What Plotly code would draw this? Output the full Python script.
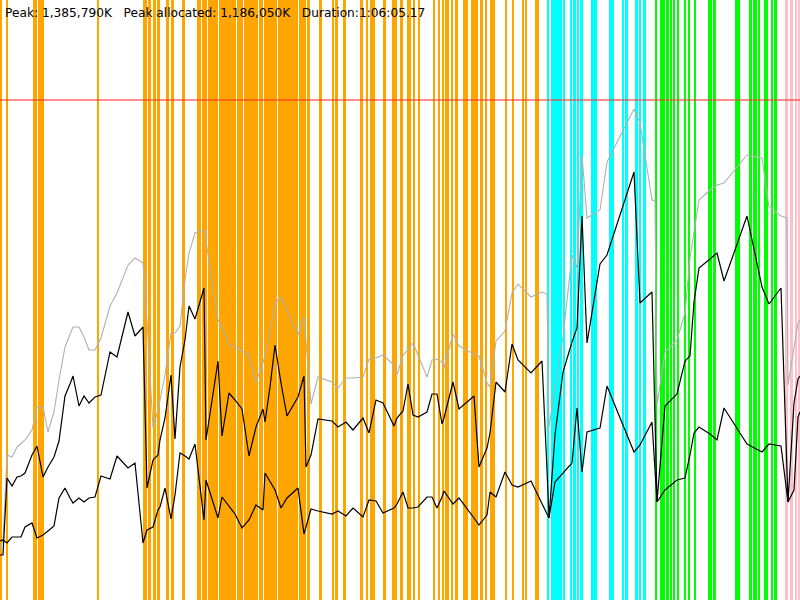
import plotly.graph_objects as go

# ---- time samples (seconds) ----
time_s = [0, 15, 35, 60, 85, 105, 125, 160, 185, 215,
          240, 270, 295, 325, 350, 365, 395, 420, 445, 475,
          505, 550, 585, 640, 675, 715, 735, 765, 790, 800,
          825, 855, 875, 900, 925, 945, 975, 1020, 1030, 1090,
          1110, 1145, 1175, 1210, 1245, 1280, 1315, 1325, 1350, 1375,
          1405, 1435, 1490, 1520, 1530, 1555, 1590, 1660, 1690, 1730,
          1765, 1815, 1845, 1880, 1915, 1970, 1985, 2015, 2040, 2065,
          2090, 2135, 2160, 2185, 2210, 2220, 2265, 2295, 2370, 2395,
          2435, 2450, 2480, 2525, 2560, 2590, 2655, 2710, 2735, 2745,
          2775, 2815, 2860, 2885, 2910, 2935, 3000, 3035, 3170, 3200,
          3260, 3275, 3285, 3325, 3385, 3425, 3450, 3470, 3495, 3550,
          3585, 3620, 3735, 3810, 3845, 3905, 3935, 3940, 3970, 3990, 4000]

# ---- memory series (% of heap limit) ----
heap_total = [10.0, 12.0, 29.0, 28.6, 30.6, 31.4, 32.0, 34.0, 38.6, 38.6,
              33.6, 37.6, 44.0, 50.6, 53.0, 54.6, 54.6, 52.6, 50.0, 50.0,
              52.4, 58.8, 61.4, 67.0, 68.4, 67.4, 56.0, 34.4, 38.0, 40.0,
              45.0, 53.4, 53.4, 54.8, 64.0, 69.4, 73.4, 74.0, 71.8, 56.0,
              54.6, 51.0, 50.6, 49.8, 49.0, 43.6, 47.4, 49.0, 53.6, 59.4,
              60.6, 58.0, 53.0, 56.6, 52.0, 39.2, 44.6, 43.6, 42.4, 44.4,
              44.4, 44.6, 48.2, 48.4, 49.0, 47.0, 45.0, 49.0, 50.0, 51.4,
              49.0, 44.6, 48.0, 48.2, 47.6, 46.4, 53.2, 50.8, 49.2, 48.8,
              43.4, 42.6, 51.8, 53.8, 61.4, 63.2, 60.6, 61.6, 61.2, 34.6,
              42.4, 52.6, 69.0, 66.4, 89.0, 76.4, 78.0, 87.6, 98.2, 95.4,
              80.0, 79.8, 39.0, 49.6, 52.0, 57.4, 68.4, 73.6, 80.0, 82.0,
              83.0, 83.4, 89.0, 88.4, 78.6, 76.8, 76.4, 43.0, 50.0, 55.4, 56.0]

heap_used = [9.0, 9.0, 24.4, 22.8, 24.6, 24.8, 25.4, 29.0, 30.8, 24.6,
             26.6, 28.6, 31.8, 40.8, 43.2, 44.8, 38.8, 40.8, 39.4, 40.6,
             41.0, 49.6, 48.6, 57.6, 52.8, 54.6, 22.4, 28.0, 29.0, 32.0,
             36.4, 45.0, 32.2, 46.6, 52.0, 58.8, 56.2, 62.4, 32.0, 47.8,
             32.8, 41.4, 40.0, 38.2, 28.8, 34.6, 38.2, 35.6, 42.6, 51.0,
             43.4, 36.8, 40.6, 44.8, 26.6, 29.0, 36.2, 35.8, 34.6, 35.6,
             34.0, 36.4, 33.4, 40.0, 39.4, 34.8, 36.4, 37.8, 43.2, 37.0,
             36.6, 37.6, 41.2, 41.2, 35.2, 36.4, 43.6, 38.2, 40.8, 26.6,
             30.4, 33.4, 43.6, 41.6, 51.2, 48.0, 45.4, 47.8, 26.0, 16.4,
             33.0, 45.6, 51.6, 54.4, 76.8, 51.4, 67.2, 69.0, 85.6, 59.4,
             61.6, 36.4, 19.6, 38.8, 41.2, 47.8, 48.8, 59.6, 66.4, 68.2,
             69.4, 63.8, 76.8, 62.6, 59.2, 62.4, 26.0, 19.6, 39.4, 44.2, 44.8]

heap_live = [11.8, 12.0, 11.4, 12.6, 12.6, 12.6, 14.6, 15.4, 12.4, 13.0,
             13.8, 14.8, 20.4, 22.4, 20.4, 19.4, 20.4, 19.6, 20.4, 20.6,
             24.8, 24.2, 28.8, 26.4, 27.4, 11.4, 14.0, 14.6, 18.0, 18.6,
             22.4, 16.2, 21.0, 29.4, 28.8, 28.2, 31.2, 16.0, 24.0, 16.4,
             20.6, 18.8, 17.2, 14.4, 16.0, 19.0, 18.0, 25.4, 23.6, 22.0,
             18.4, 20.4, 22.4, 13.2, 14.6, 18.2, 17.8, 17.2, 17.8, 16.8,
             18.4, 16.6, 20.0, 19.8, 17.4, 18.4, 19.2, 21.6, 18.4, 18.4,
             18.6, 20.6, 20.6, 18.4, 20.6, 21.8, 19.2, 20.4, 16.4, 15.0,
             17.0, 21.6, 20.6, 25.6, 23.0, 22.6, 23.8, 19.4, 17.2, 16.4,
             23.6, 25.4, 27.4, 38.4, 25.6, 33.6, 34.4, 42.8, 29.6, 31.0,
             35.6, 26.0, 19.6, 22.0, 24.0, 24.4, 29.0, 33.4, 34.6, 33.2,
             32.0, 38.4, 31.2, 29.6, 31.2, 30.8, 21.0, 19.6, 22.0, 36.6, 37.6]

heap_limit = 100.0

# ---- phase events: start time (s) and duration (s) ----
orange_start = [0, 30, 165, 175, 190, 485, 715, 740, 762.5, 785,
                830, 855, 910, 985, 1010, 1040, 1092.5, 1185, 1220, 1295,
                1320, 1390, 1495, 1535, 1595, 1660, 1675, 1715, 1800, 1830,
                1850, 1915, 1960, 2000, 2035, 2047.5, 2065, 2090, 2165, 2190,
                2210, 2225, 2255, 2275, 2315, 2355, 2400, 2425, 2450, 2525,
                2560, 2610, 2625, 2675]
orange_dur = [7.5, 7.5, 7.5, 10, 27.5, 7.5, 17.5, 12.5, 15, 15,
              15, 15, 15, 20, 26.5, 47.5, 87.5, 30, 70, 20,
              65, 100, 36.5, 15, 15, 10, 12.5, 15, 15, 10,
              25, 15, 25, 15, 7.5, 7.5, 7.5, 10, 7.5, 10,
              7.5, 17.5, 10, 15, 25, 35, 15, 10, 25, 10,
              7.5, 7.5, 10, 20]

cyan_start = [2735, 2755, 2815, 2847.5, 2865, 2885, 2900, 2955, 3045, 3110,
              3125, 3175, 3195, 3212.5]
cyan_dur = [7.5, 55, 10, 12.5, 12.5, 7.5, 12.5, 30, 22.5, 10,
            15, 12.5, 10, 17.5]

green_start = [3275, 3297.5, 3310, 3327.5, 3347.5, 3365, 3385, 3417.5, 3440, 3470,
               3537.5, 3565, 3675, 3742.5, 3765, 3792.5, 3820, 3852.5, 3867.5]
green_dur = [7.5, 10, 15, 17.5, 12.5, 10, 7.5, 10, 10, 7.5,
             22.5, 15, 25, 17.5, 20, 7.5, 20, 12.5, 17.5]

pink_start = [3925, 3950, 3975, 3992.5]
pink_dur = [15, 15, 10, 7.5]

X_MAX = 4000
Y_MAX = 120

header = ("Peak: 1,385,790K\u00a0\u00a0\u00a0Peak allocated: 1,186,050K"
          "\u00a0\u00a0\u00a0Duration:1:06:05.17")

fig = go.Figure()

for starts, durs, color in [(orange_start, orange_dur, "#FFA500"),
                            (cyan_start, cyan_dur, "#00FFFF"),
                            (green_start, green_dur, "#00FF00"),
                            (pink_start, pink_dur, "#FFC0CB")]:
    fig.add_trace(go.Bar(x=starts, y=[Y_MAX] * len(starts), width=durs, offset=0,
                         base=0, marker=dict(color=color, line=dict(width=0)),
                         hoverinfo="skip", showlegend=False))

fig.add_trace(go.Scatter(x=[0, X_MAX], y=[heap_limit, heap_limit], mode="lines",
                         line=dict(color="rgba(255,40,40,0.7)", width=1.5),
                         hoverinfo="skip", showlegend=False))

fig.add_trace(go.Scatter(x=time_s, y=heap_total, mode="lines",
                         line=dict(color="#b0b0b0", width=1.1), showlegend=False))
fig.add_trace(go.Scatter(x=time_s, y=heap_used, mode="lines",
                         line=dict(color="#000000", width=1.2), showlegend=False))
fig.add_trace(go.Scatter(x=time_s, y=heap_live, mode="lines",
                         line=dict(color="#000000", width=1.2), showlegend=False))

fig.add_annotation(text=header, xref="paper", yref="paper", x=0, y=1,
                   xanchor="left", yanchor="top", xshift=3, yshift=-4,
                   showarrow=False,
                   font=dict(family="DejaVu Sans", size=12.2, color="#000000"))

fig.update_layout(width=800, height=600, margin=dict(l=0, r=0, t=0, b=0),
                  paper_bgcolor="white", plot_bgcolor="white",
                  barmode="overlay", bargap=0,
                  xaxis=dict(visible=False, range=[0, X_MAX], fixedrange=True),
                  yaxis=dict(visible=False, range=[0, Y_MAX], fixedrange=True))

fig.write_html("out.html", config={"displayModeBar": False},
               post_script="document.body.style.margin='0';document.body.style.overflow='hidden';")
